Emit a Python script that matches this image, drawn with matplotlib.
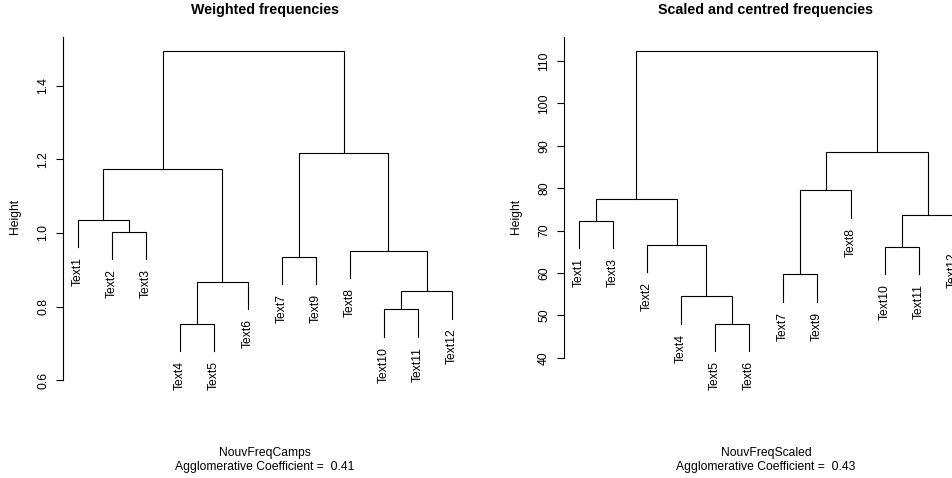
import matplotlib
matplotlib.use("Agg")
import matplotlib.pyplot as plt

# ---------------- data ----------------
labels = ["Text1", "Text2", "Text3", "Text4", "Text5", "Text6",
          "Text7", "Text8", "Text9", "Text10", "Text11", "Text12"]

# R-style merge matrices (negative = leaf number, positive = earlier merge)
merge_camps = [(-2, -3), (-1, 1), (-4, -5), (3, -6), (2, 4), (-7, -9),
               (-10, -11), (7, -12), (-8, 8), (6, 9), (5, 10)]
height_camps = [1.003, 1.035, 0.752, 0.867, 1.173, 0.936,
                0.792, 0.841, 0.952, 1.219, 1.495]

merge_scaled = [(-1, -3), (-5, -6), (-4, 2), (-2, 3), (1, 4), (-7, -9),
                (6, -8), (-10, -11), (8, -12), (7, 9), (5, 10)]
height_scaled = [72.3, 48.0, 54.5, 66.7, 77.5, 59.7,
                 79.5, 66.2, 73.6, 88.6, 112.4]

titles = ["Weighted frequencies", "Scaled and centred frequencies"]
data_names = ["NouvFreqCamps", "NouvFreqScaled"]
agg_coefs = ["0.41", "0.43"]
yticks_list = [[0.6, 0.8, 1.0, 1.2, 1.4], [40, 50, 60, 70, 80, 90, 100, 110]]
ylims = [(0.5592, 1.5333), (31.22, 115.66)]

# ---------------- layout ----------------
W, H = 953, 478
fig = plt.figure(figsize=(W / 100, H / 100), dpi=100)
FONT = "Liberation Sans"
FS = 8.7

panels_x = [63, 564]
pw = 404
ytop, ybot = 37, 395


def draw_dendro(ax, merge, heights, leaf_labels):
    n = len(merge) + 1
    hang = 0.1 * (max(heights) - min(heights))
    # determine leaf order
    order = []

    def collect(node):
        if node < 0:
            order.append(-node)
        else:
            a, b = merge[node - 1]
            collect(a)
            collect(b)

    collect(len(merge))
    xpos = {leaf: i + 1 for i, leaf in enumerate(order)}

    def pos(node):
        if node < 0:
            return xpos[-node]
        a, b = merge[node - 1]
        return (pos(a) + pos(b)) / 2.0

    for i, (a, b) in enumerate(merge):
        h = heights[i]
        xa, xb = pos(a), pos(b)
        ya = heights[a - 1] if a > 0 else h - hang
        yb = heights[b - 1] if b > 0 else h - hang
        ax.plot([xa, xa, xb, xb], [ya, h, h, yb], color="black", lw=0.8,
                solid_joinstyle="miter", clip_on=False)
        for node, yy, xx in ((a, ya, xa), (b, yb, xb)):
            if node < 0:
                ax.annotate(leaf_labels[-node - 1], xy=(xx, yy), xytext=(0, -7.2),
                            textcoords="offset points", rotation=90,
                            ha="center", va="top", fontsize=FS, family=FONT,
                            annotation_clip=False)
    ax.set_xlim(0.56, n + 0.44)


merges = [merge_camps, merge_scaled]
heights_all = [height_camps, height_scaled]

for k in range(2):
    x0 = panels_x[k]
    ax = fig.add_axes([x0 / W, (H - ybot) / H, pw / W, (ybot - ytop) / H])
    draw_dendro(ax, merges[k], heights_all[k], labels)
    ax.set_ylim(*ylims[k])
    for s in ["top", "right", "bottom"]:
        ax.spines[s].set_visible(False)
    ax.spines["left"].set_bounds(yticks_list[k][0], ylims[k][1])
    ax.spines["left"].set_linewidth(0.8)
    ax.set_xticks([])
    ax.set_yticks(yticks_list[k])
    if k == 0:
        ax.set_yticklabels([f"{v:.1f}" for v in yticks_list[k]])
    else:
        ax.set_yticklabels([f"{v:d}" for v in yticks_list[k]])
    ax.tick_params(axis="y", length=5, width=0.8, pad=5)
    for t in ax.get_yticklabels():
        t.set_rotation(90)
        t.set_va("center")
        t.set_ha("right")
        t.set_fontsize(FS)
        t.set_family(FONT)
    ax.patch.set_alpha(0)

    cx = (x0 + pw / 2) / W
    fig.text(cx, 1 - 10 / H, titles[k], ha="center", va="center",
             fontsize=10.3, fontweight="bold", family=FONT)
    fig.text(cx, 1 - 453 / H, data_names[k], ha="center", va="center",
             fontsize=FS, family=FONT)
    fig.text(cx, 1 - 467 / H, "Agglomerative Coefficient =  " + agg_coefs[k],
             ha="center", va="center", fontsize=FS, family=FONT)
    fig.text((x0 - 48) / W, 1 - 216 / H, "Height", rotation=90,
             ha="center", va="center", fontsize=FS, family=FONT)

fig.savefig("out.png", dpi=100)
